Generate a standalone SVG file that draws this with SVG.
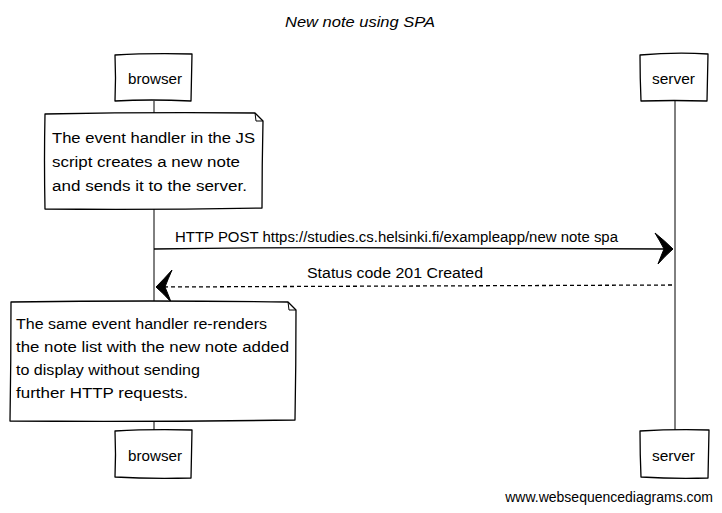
<svg xmlns="http://www.w3.org/2000/svg" width="722" height="513" viewBox="0 0 722 513">
<style>
  .box { fill: #fff; stroke: #000; stroke-width: 1.3; stroke-linejoin: round; }
  .life { stroke: #000; stroke-width: 1; fill: none; }
  .t { font-family: "Liberation Sans", Arial, sans-serif; font-size: 14px; fill: #000; }
  .title { font-family: "Liberation Sans", Arial, sans-serif; font-size: 15px; font-style: italic; fill: #000; }
  .msg { stroke: #000; stroke-width: 1.3; fill: none; }
  .head { fill: #000; stroke: #000; stroke-width: 1; stroke-linejoin: round; }
</style>
<rect width="722" height="513" fill="#fff"/>
<text class="title" x="285" y="27" textLength="150" lengthAdjust="spacingAndGlyphs">New note using SPA</text>

<g id="connectors">
  <line class="life" x1="154" y1="101" x2="154" y2="431"/>
  <line class="life" x1="675" y1="101" x2="675" y2="431"/>
  <path class="msg" d="M154 249 Q300 247 420 248 T668 249"/>
  <path class="head" d="M655 233 Q665 241 673 249 Q665 256 658 264 Q661 256 664 249 Q660 241 655 233 Z"/>
  <text class="t" x="175" y="242" textLength="443" lengthAdjust="spacingAndGlyphs">HTTP POST https://studies.cs.helsinki.fi/exampleapp/new note spa</text>
  <path class="msg" d="M672 285 L160 287" stroke-dasharray="4,3"/>
  <path class="head" d="M172 270 Q164 279 156 287 Q164 294 171 302 Q168 294 165 287 Q168 279 172 270 Z"/>
  <text class="t" x="307" y="278" textLength="176" lengthAdjust="spacingAndGlyphs">Status code 201 Created</text>
</g>

<g id="browser-top">
  <path class="box" d="M115 55 Q150 53 192 54 L191 101 Q150 99 115 101 Q116 78 115 55 Z"/>
  <text class="t" x="128" y="84" textLength="54" lengthAdjust="spacingAndGlyphs">browser</text>
</g>
<g id="server-top">
  <path class="box" d="M640 55 Q675 52 708 54 L707 101 Q674 100 641 101 Q640 78 640 55 Z"/>
  <text class="t" x="652" y="84" textLength="43" lengthAdjust="spacingAndGlyphs">server</text>
</g>

<g id="note1">
  <path class="box" d="M45 114 Q150 112 255 113 L263 121 Q262 165 262 208 Q150 210 45 209 Q44 160 45 114 Z"/>
  <path class="life" d="M255 113 L256 121 L263 121"/>
  <text class="t" x="52" y="143" textLength="203" lengthAdjust="spacingAndGlyphs">The event handler in the JS</text>
  <text class="t" x="52" y="167" textLength="188" lengthAdjust="spacingAndGlyphs">script creates a new note</text>
  <text class="t" x="52" y="191" textLength="195" lengthAdjust="spacingAndGlyphs">and sends it to the server.</text>
</g>

<g id="note2">
  <path class="box" d="M11 302 Q150 300 288 302 L296 310 Q296 365 295 420 Q150 422 10 421 Q11 360 11 302 Z"/>
  <path class="life" d="M288 302 L289 310 L296 310"/>
  <text class="t" x="16" y="329" textLength="251" lengthAdjust="spacingAndGlyphs">The same event handler re-renders</text>
  <text class="t" x="16" y="352" textLength="273" lengthAdjust="spacingAndGlyphs">the note list with the new note added</text>
  <text class="t" x="16" y="375" textLength="184" lengthAdjust="spacingAndGlyphs">to display without sending</text>
  <text class="t" x="16" y="398" textLength="172" lengthAdjust="spacingAndGlyphs">further HTTP requests.</text>
</g>

<g id="browser-bottom">
  <path class="box" d="M115 431 Q150 429 192 430 L191 478 Q150 479 115 477 Q116 455 115 431 Z"/>
  <text class="t" x="128" y="461" textLength="54" lengthAdjust="spacingAndGlyphs">browser</text>
</g>
<g id="server-bottom">
  <path class="box" d="M640 431 Q675 429 709 430 L708 478 Q675 479 641 477 Q640 455 640 431 Z"/>
  <text class="t" x="652" y="461" textLength="43" lengthAdjust="spacingAndGlyphs">server</text>
</g>

<text x="713" y="502" text-anchor="end" font-family="Liberation Sans, Arial, sans-serif" font-size="14" fill="#000">www.websequencediagrams.com</text>
</svg>
